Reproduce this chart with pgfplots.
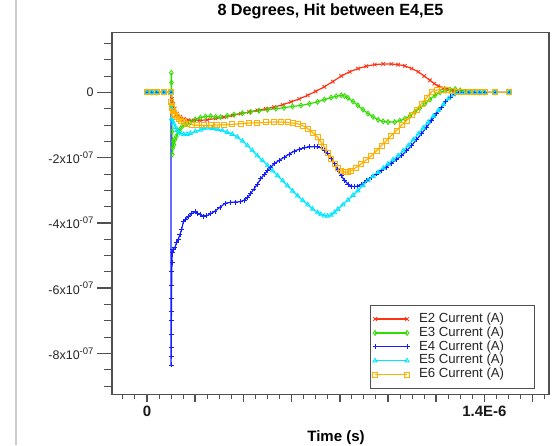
\documentclass[border=0pt]{standalone}
\usepackage{pgfplots}
\pgfplotsset{compat=1.18}
\usepackage{fontspec}
\setmainfont{Liberation Sans}
\definecolor{cEtwo}{RGB}{255,50,20}
\definecolor{cEthree}{RGB}{50,220,0}
\definecolor{cEfour}{RGB}{20,30,255}
\definecolor{cEfive}{RGB}{0,230,255}
\definecolor{cEsix}{RGB}{255,175,0}
\definecolor{frame}{RGB}{80,80,80}
\newcommand{\ylab}[1]{#1x10\raisebox{5.5pt}{\fontsize{9.5}{9.5}\selectfont -07}}

\pgfplotstableread{
t i
0 0
0.02e-6 0
0.04e-6 0
0.07e-6 0
0.100e-6 0
0.104e-6 -0.2e-7
0.108e-6 -0.35e-7
0.115e-6 -0.5e-7
0.125e-6 -0.65e-7
0.138e-6 -0.75e-7
0.153e-6 -0.81e-7
0.172e-6 -0.85e-7
0.194e-6 -0.86e-7
0.220e-6 -0.86e-7
0.250e-6 -0.84e-7
0.285e-6 -0.80e-7
0.320e-6 -0.76e-7
0.355e-6 -0.71e-7
0.389e-6 -0.65e-7
0.424e-6 -0.60e-7
0.458e-6 -0.55e-7
0.493e-6 -0.50e-7
0.528e-6 -0.45e-7
0.563e-6 -0.38e-7
0.598e-6 -0.29e-7
0.632e-6 -0.20e-7
0.667e-6 -0.09e-7
0.700e-6 0.03e-7
0.736e-6 0.17e-7
0.771e-6 0.33e-7
0.806e-6 0.50e-7
0.841e-6 0.63e-7
0.876e-6 0.73e-7
0.910e-6 0.80e-7
0.945e-6 0.85e-7
0.980e-6 0.87e-7
1.014e-6 0.87e-7
1.042e-6 0.85e-7
1.070e-6 0.81e-7
1.098e-6 0.73e-7
1.126e-6 0.63e-7
1.150e-6 0.50e-7
1.174e-6 0.37e-7
1.192e-6 0.27e-7
1.209e-6 0.19e-7
1.230e-6 0.13e-7
1.251e-6 0.09e-7
1.272e-6 0.05e-7
1.293e-6 0.02e-7
1.315e-6 0.01e-7
1.335e-6 0
1.36e-6 0
1.38e-6 0
1.40e-6 0
1.444e-6 0
1.503e-6 0
}\Etwo

\pgfplotstableread{
t i
0 0
0.02e-6 0
0.04e-6 0
0.07e-6 0
0.100e-6 0
0.101e-6 0.6e-7
0.102e-6 0.3e-7
0.103e-6 -0.4e-7
0.104e-6 -1.2e-7
0.105e-6 -1.9e-7
0.107e-6 -1.7e-7
0.109e-6 -1.5e-7
0.112e-6 -1.6e-7
0.116e-6 -1.45e-7
0.122e-6 -1.35e-7
0.130e-6 -1.2e-7
0.140e-6 -1.1e-7
0.1525e-6 -1.0e-7
0.166e-6 -0.95e-7
0.180e-6 -0.91e-7
0.200e-6 -0.83e-7
0.222e-6 -0.77e-7
0.243e-6 -0.74e-7
0.264e-6 -0.73e-7
0.285e-6 -0.75e-7
0.305e-6 -0.76e-7
0.333e-6 -0.72e-7
0.361e-6 -0.68e-7
0.396e-6 -0.64e-7
0.430e-6 -0.60e-7
0.465e-6 -0.56e-7
0.500e-6 -0.53e-7
0.535e-6 -0.50e-7
0.569e-6 -0.47e-7
0.604e-6 -0.43e-7
0.639e-6 -0.40e-7
0.674e-6 -0.35e-7
0.708e-6 -0.29e-7
0.736e-6 -0.22e-7
0.764e-6 -0.16e-7
0.785e-6 -0.12e-7
0.806e-6 -0.09e-7
0.820e-6 -0.11e-7
0.834e-6 -0.17e-7
0.855e-6 -0.28e-7
0.875e-6 -0.40e-7
0.896e-6 -0.53e-7
0.917e-6 -0.65e-7
0.938e-6 -0.75e-7
0.959e-6 -0.84e-7
0.980e-6 -0.89e-7
1.000e-6 -0.91e-7
1.028e-6 -0.91e-7
1.049e-6 -0.87e-7
1.070e-6 -0.81e-7
1.091e-6 -0.72e-7
1.112e-6 -0.60e-7
1.132e-6 -0.48e-7
1.153e-6 -0.35e-7
1.174e-6 -0.22e-7
1.195e-6 -0.09e-7
1.216e-6 0.0
1.237e-6 0.05e-7
1.258e-6 0.08e-7
1.279e-6 0.1e-7
1.300e-6 0.06e-7
1.320e-6 0.02e-7
1.340e-6 0
1.36e-6 0
1.38e-6 0
1.40e-6 0
1.444e-6 0
1.503e-6 0
}\Ethree

\pgfplotstableread{
t i
0 0
0.02e-6 0
0.04e-6 0
0.07e-6 0
0.0996e-6 0
0.100e-6 -8.35e-7
0.1003e-6 -8.1e-7
0.1006e-6 -7.8e-7
0.101e-6 -7.4e-7
0.1013e-6 -7.0e-7
0.1016e-6 -6.7e-7
0.102e-6 -6.3e-7
0.1025e-6 -5.9e-7
0.103e-6 -5.5e-7
0.104e-6 -5.2e-7
0.105e-6 -4.9e-7
0.108e-6 -4.8e-7
0.116e-6 -4.75e-7
0.123e-6 -4.6e-7
0.130e-6 -4.5e-7
0.137e-6 -4.35e-7
0.144e-6 -4.2e-7
0.151e-6 -3.96e-7
0.161e-6 -3.88e-7
0.171e-6 -3.81e-7
0.185e-6 -3.72e-7
0.199e-6 -3.66e-7
0.210e-6 -3.70e-7
0.220e-6 -3.74e-7
0.234e-6 -3.79e-7
0.248e-6 -3.78e-7
0.265e-6 -3.72e-7
0.282e-6 -3.64e-7
0.303e-6 -3.52e-7
0.324e-6 -3.40e-7
0.345e-6 -3.37e-7
0.366e-6 -3.36e-7
0.389e-6 -3.35e-7
0.403e-6 -3.30e-7
0.417e-6 -3.22e-7
0.430e-6 -3.10e-7
0.444e-6 -2.96e-7
0.458e-6 -2.81e-7
0.472e-6 -2.65e-7
0.486e-6 -2.52e-7
0.500e-6 -2.40e-7
0.514e-6 -2.29e-7
0.528e-6 -2.19e-7
0.549e-6 -2.08e-7
0.569e-6 -1.99e-7
0.590e-6 -1.89e-7
0.611e-6 -1.80e-7
0.632e-6 -1.74e-7
0.653e-6 -1.70e-7
0.674e-6 -1.67e-7
0.695e-6 -1.66e-7
0.708e-6 -1.67e-7
0.722e-6 -1.70e-7
0.736e-6 -1.78e-7
0.750e-6 -1.88e-7
0.764e-6 -2.02e-7
0.778e-6 -2.19e-7
0.792e-6 -2.37e-7
0.806e-6 -2.55e-7
0.820e-6 -2.70e-7
0.834e-6 -2.81e-7
0.848e-6 -2.87e-7
0.861e-6 -2.89e-7
0.875e-6 -2.87e-7
0.889e-6 -2.82e-7
0.910e-6 -2.71e-7
0.931e-6 -2.60e-7
0.952e-6 -2.50e-7
0.973e-6 -2.40e-7
0.993e-6 -2.29e-7
1.014e-6 -2.17e-7
1.035e-6 -2.06e-7
1.056e-6 -1.94e-7
1.077e-6 -1.79e-7
1.098e-6 -1.63e-7
1.118e-6 -1.45e-7
1.139e-6 -1.27e-7
1.160e-6 -1.07e-7
1.181e-6 -0.86e-7
1.202e-6 -0.65e-7
1.223e-6 -0.45e-7
1.240e-6 -0.29e-7
1.258e-6 -0.14e-7
1.275e-6 -0.05e-7
1.293e-6 0
1.315e-6 0
1.335e-6 0
1.36e-6 0
1.38e-6 0
1.40e-6 0
1.444e-6 0
1.503e-6 0
}\Efour

\pgfplotstableread{
t i
0 0
0.02e-6 0
0.04e-6 0
0.07e-6 0
0.100e-6 0
0.101e-6 -0.5e-7
0.102e-6 -0.81e-7
0.106e-6 -0.88e-7
0.111e-6 -0.96e-7
0.118e-6 -1.07e-7
0.125e-6 -1.16e-7
0.132e-6 -1.22e-7
0.142e-6 -1.27e-7
0.153e-6 -1.29e-7
0.166e-6 -1.28e-7
0.180e-6 -1.25e-7
0.201e-6 -1.20e-7
0.222e-6 -1.15e-7
0.236e-6 -1.11e-7
0.250e-6 -1.09e-7
0.271e-6 -1.10e-7
0.292e-6 -1.13e-7
0.313e-6 -1.17e-7
0.333e-6 -1.22e-7
0.354e-6 -1.28e-7
0.375e-6 -1.37e-7
0.396e-6 -1.49e-7
0.417e-6 -1.63e-7
0.437e-6 -1.78e-7
0.458e-6 -1.94e-7
0.479e-6 -2.09e-7
0.500e-6 -2.24e-7
0.521e-6 -2.40e-7
0.542e-6 -2.55e-7
0.563e-6 -2.71e-7
0.583e-6 -2.86e-7
0.604e-6 -3.02e-7
0.625e-6 -3.17e-7
0.646e-6 -3.31e-7
0.667e-6 -3.44e-7
0.687e-6 -3.57e-7
0.708e-6 -3.68e-7
0.722e-6 -3.74e-7
0.736e-6 -3.78e-7
0.750e-6 -3.79e-7
0.764e-6 -3.76e-7
0.778e-6 -3.68e-7
0.792e-6 -3.58e-7
0.813e-6 -3.44e-7
0.834e-6 -3.30e-7
0.855e-6 -3.15e-7
0.875e-6 -3.01e-7
0.896e-6 -2.85e-7
0.917e-6 -2.70e-7
0.938e-6 -2.57e-7
0.959e-6 -2.45e-7
0.980e-6 -2.32e-7
1.000e-6 -2.19e-7
1.021e-6 -2.06e-7
1.042e-6 -1.94e-7
1.063e-6 -1.79e-7
1.084e-6 -1.63e-7
1.105e-6 -1.45e-7
1.126e-6 -1.27e-7
1.146e-6 -1.09e-7
1.167e-6 -0.91e-7
1.188e-6 -0.73e-7
1.209e-6 -0.55e-7
1.230e-6 -0.37e-7
1.251e-6 -0.19e-7
1.272e-6 -0.07e-7
1.293e-6 0
1.315e-6 0
1.335e-6 0
1.36e-6 0
1.38e-6 0
1.40e-6 0
1.444e-6 0
1.503e-6 0
}\Efive

\pgfplotstableread{
t i
0 0
0.02e-6 0
0.04e-6 0
0.07e-6 0
0.100e-6 0
0.101e-6 -0.3e-7
0.102e-6 -0.40e-7
0.104e-6 -0.48e-7
0.108e-6 -0.58e-7
0.113e-6 -0.65e-7
0.118e-6 -0.70e-7
0.125e-6 -0.76e-7
0.132e-6 -0.81e-7
0.139e-6 -0.86e-7
0.152e-6 -0.91e-7
0.166e-6 -0.96e-7
0.187e-6 -0.99e-7
0.208e-6 -1.01e-7
0.236e-6 -1.01e-7
0.264e-6 -1.01e-7
0.292e-6 -1.00e-7
0.320e-6 -0.99e-7
0.354e-6 -0.98e-7
0.389e-6 -0.96e-7
0.424e-6 -0.94e-7
0.458e-6 -0.93e-7
0.493e-6 -0.92e-7
0.528e-6 -0.91e-7
0.556e-6 -0.91e-7
0.583e-6 -0.92e-7
0.604e-6 -0.94e-7
0.625e-6 -0.96e-7
0.646e-6 -1.02e-7
0.667e-6 -1.11e-7
0.687e-6 -1.23e-7
0.708e-6 -1.37e-7
0.722e-6 -1.52e-7
0.736e-6 -1.68e-7
0.750e-6 -1.86e-7
0.764e-6 -2.04e-7
0.778e-6 -2.19e-7
0.792e-6 -2.32e-7
0.806e-6 -2.41e-7
0.820e-6 -2.45e-7
0.834e-6 -2.45e-7
0.848e-6 -2.40e-7
0.868e-6 -2.30e-7
0.889e-6 -2.19e-7
0.910e-6 -2.07e-7
0.931e-6 -1.94e-7
0.952e-6 -1.79e-7
0.973e-6 -1.63e-7
0.993e-6 -1.48e-7
1.014e-6 -1.32e-7
1.035e-6 -1.17e-7
1.056e-6 -1.01e-7
1.077e-6 -0.86e-7
1.098e-6 -0.70e-7
1.118e-6 -0.53e-7
1.139e-6 -0.35e-7
1.160e-6 -0.16e-7
1.181e-6 0.02e-7
1.202e-6 0.07e-7
1.223e-6 0.09e-7
1.244e-6 0.08e-7
1.265e-6 0.04e-7
1.286e-6 0.01e-7
1.306e-6 0
1.335e-6 0
1.36e-6 0
1.38e-6 0
1.40e-6 0
1.444e-6 0
1.503e-6 0
}\Esix

\begin{document}
\begin{tikzpicture}[x=1pt,y=1pt]
\useasboundingbox (0,0) rectangle (554,445);
\fill[black!20] (14.6,0) rectangle (16.9,445);
\begin{axis}[
  at={(112pt,50.7pt)}, anchor=south west, scale only axis,
  width=437pt, height=362pt,
  xmin=-0.145e-6, xmax=1.668e-6, ymin=-9.25e-7, ymax=1.84e-7,
  axis line style={draw=frame, line width=1.1pt},
  tick align=outside, xtick pos=bottom, ytick pos=left,
  xtick=\empty,
  ytick={-8e-7,-6e-7,-4e-7,-2e-7,0},
  yticklabels={\ylab{-8},\ylab{-6},\ylab{-4},\ylab{-2},0},
  minor ytick={1.5e-7,1e-7,0.5e-7,-0.5e-7,-1e-7,-1.5e-7,-2.5e-7,-3e-7,-3.5e-7,-4.5e-7,-5e-7,-5.5e-7,-6.5e-7,-7e-7,-7.5e-7,-8.5e-7,-9e-7},
  major tick length=15pt, minor tick length=8pt,
  every major tick/.style={frame, line width=1.7pt},
  every minor tick/.style={frame, line width=0.9pt},
  scaled ticks=false,
  yticklabel style={font=\fontsize{12.5}{12.5}\selectfont, text=black!85},
  title={8 Degrees, Hit between E4,E5},
  title style={at={(axis description cs:0.5,1)}, anchor=base, yshift=10.8pt,
    font=\bfseries\fontsize{16.2}{16.2}\selectfont},
  every axis plot/.append style={line width=1.2pt, mark size=2.5pt,
    mark options={solid, line width=0.8pt}},
  legend image code/.code={\draw[mark repeat=1,mark phase=1,#1] plot coordinates {(0pt,0pt) (32pt,0pt)};},
  legend cell align=left,
  legend style={at={(axis description cs:0.968,0.247)}, anchor=north east,
    draw=frame, line width=0.9pt, inner xsep=2.5pt, inner ysep=7.5pt,
    font=\fontsize{13.2}{13.5}\selectfont, column sep=9.5pt, row sep=1.35pt,
    nodes={inner sep=0pt, text height=9.5pt, text depth=3pt, text=black!85}},
]
\addplot[color=cEtwo, mark=x] table[x=t, y=i] {\Etwo};
\addlegendentry{\makebox[113pt][l]{E2 Current (A)}}
\addplot[color=cEthree, mark=diamond] table[x=t, y=i] {\Ethree};
\addlegendentry{\makebox[113pt][l]{E3 Current (A)}}
\addplot[color=cEfour, mark=+] table[x=t, y=i] {\Efour};
\addlegendentry{\makebox[113pt][l]{E4 Current (A)}}
\addplot[color=cEfive, mark=triangle] table[x=t, y=i] {\Efive};
\addlegendentry{\makebox[113pt][l]{E5 Current (A)}}
\addplot[color=cEsix, mark=square] table[x=t, y=i] {\Esix};
\addlegendentry{\makebox[113pt][l]{E6 Current (A)}}
\end{axis}
\begin{axis}[
  at={(112pt,50.7pt)}, anchor=south west, scale only axis,
  width=437pt, height=362pt,
  xmin=-0.145e-6, xmax=1.668e-6, ymin=-9.25e-7, ymax=1.84e-7,
  hide y axis,
  axis line style={draw=frame, line width=1.1pt},
  tick align=outside, xtick pos=bottom,
  xtick={0,0.2e-6,0.4e-6,0.6e-6,0.8e-6,1.0e-6,1.2e-6,1.4e-6,1.6e-6},
  xticklabels={0,,,,,,,1.4E-6,},
  minor xtick={-0.1e-6,-0.05e-6,0.05e-6,0.1e-6,0.15e-6,0.25e-6,0.3e-6,0.35e-6,0.45e-6,0.5e-6,0.55e-6,0.65e-6,0.7e-6,0.75e-6,0.85e-6,0.9e-6,0.95e-6,1.05e-6,1.1e-6,1.15e-6,1.25e-6,1.3e-6,1.35e-6,1.45e-6,1.5e-6,1.55e-6,1.65e-6},
  major tick length=8pt, minor tick length=5pt,
  every major tick/.style={frame, line width=1.7pt},
  every minor tick/.style={frame, line width=0.9pt},
  scaled ticks=false,
  xticklabel style={font=\bfseries\fontsize{15}{15}\selectfont, text=black!90},
  xlabel={Time (s)},
  xlabel style={at={(axis description cs:0.5126,0)}, anchor=base, yshift=-46.7pt,
    font=\bfseries\fontsize{15}{15}\selectfont},
]
\end{axis}
\end{tikzpicture}
\end{document}
